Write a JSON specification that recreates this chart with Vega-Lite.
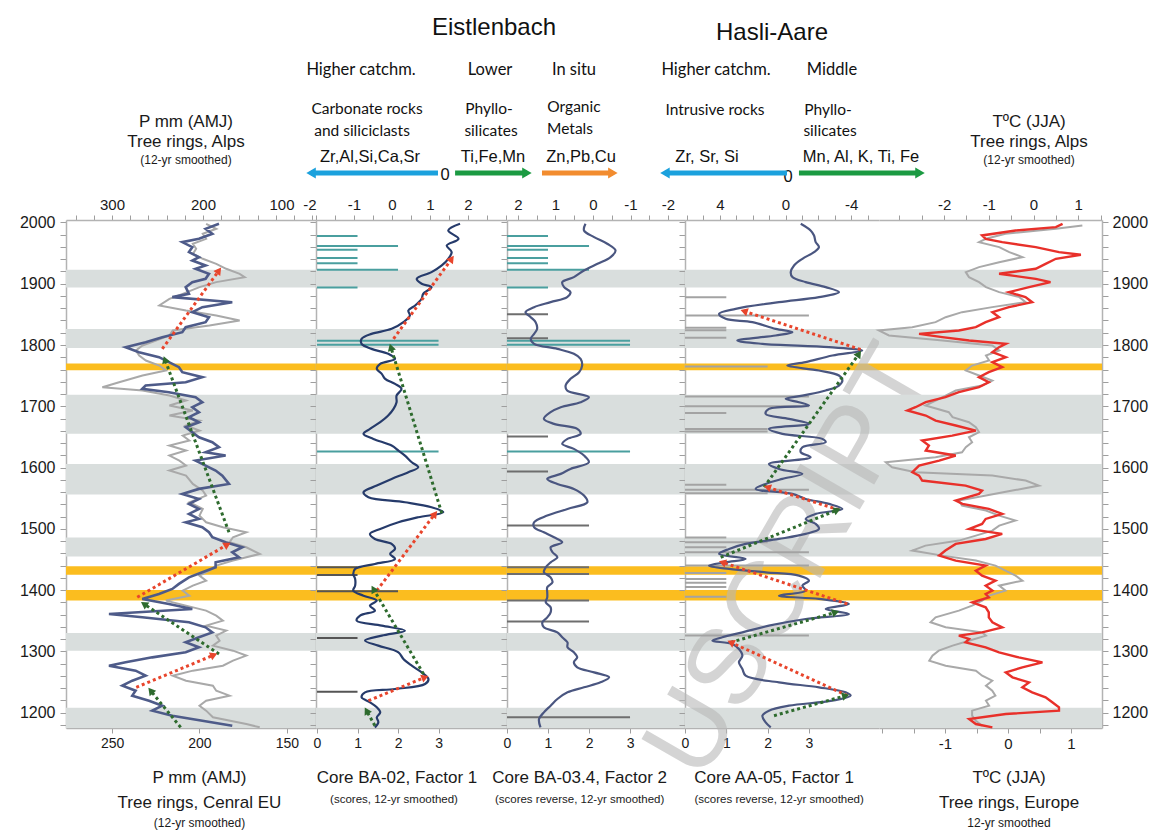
{
"$schema": "https://vega.github.io/schema/vega-lite/v6.json",
"background": "white",
"padding": {"left": 19, "top": 0, "right": 4, "bottom": 0},
"datasets": {
"intervals": [
{"year":1894,"year_end":1923,"kind":"period"},{"year":1795,"year_end":1826,"kind":"period"},{"year":1655,"year_end":1719,"kind":"period"},{"year":1556,"year_end":1606,"kind":"period"},{"year":1455,"year_end":1486,"kind":"period"},{"year":1301,"year_end":1330,"kind":"period"},{"year":1175,"year_end":1208,"kind":"period"},
{"year":1759,"year_end":1770,"kind":"event"},{"year":1425,"year_end":1439,"kind":"event"},{"year":1383,"year_end":1400,"kind":"event"}],
"watermark": [{"label":"USCRIPT","year":1111,"v":6.80}],
"p_alps": [
{"year":1997.8,"p":182.4},{"year":1989.7,"p":197.1},{"year":1981.5,"p":189.7},{"year":1973.3,"p":204.4},{"year":1967.9,"p":222.7},{"year":1959.7,"p":211.7},{"year":1951.6,"p":215.4},{"year":1943.4,"p":204.4},{"year":1937.9,"p":211.7},{"year":1929.8,"p":197.1},{"year":1924.4,"p":208.1},{"year":1916.2,"p":193.4},{"year":1908.0,"p":197.1},{"year":1902.6,"p":211.7},{"year":1894.4,"p":219.0},{"year":1883.5,"p":215.4},{"year":1878.1,"p":233.7},{"year":1869.9,"p":167.8},{"year":1861.8,"p":200.7},{"year":1853.6,"p":211.7},{"year":1845.4,"p":193.4},{"year":1837.3,"p":197.1},{"year":1829.1,"p":219.0},{"year":1820.9,"p":222.7},{"year":1812.8,"p":244.7},{"year":1804.6,"p":263.0},{"year":1796.5,"p":285.0},{"year":1788.3,"p":270.3},{"year":1780.1,"p":248.3},{"year":1772.0,"p":237.4},{"year":1763.8,"p":226.4},{"year":1755.6,"p":222.7},{"year":1747.5,"p":200.7},{"year":1739.3,"p":219.0},{"year":1733.9,"p":263.0},{"year":1728.4,"p":266.7},{"year":1723.0,"p":237.4},{"year":1714.8,"p":208.1},{"year":1706.7,"p":200.7},{"year":1698.5,"p":211.7},{"year":1690.4,"p":204.4},{"year":1682.2,"p":215.4},{"year":1674.0,"p":204.4},{"year":1665.9,"p":219.0},{"year":1657.7,"p":211.7},{"year":1649.5,"p":204.4},{"year":1641.4,"p":189.7},{"year":1633.2,"p":182.4},{"year":1625.0,"p":197.1},{"year":1619.6,"p":175.1},{"year":1611.4,"p":208.1},{"year":1603.3,"p":197.1},
{"year":1595.1,"p":186.1},{"year":1586.9,"p":178.7},{"year":1573.3,"p":171.4},{"year":1565.2,"p":204.4},{"year":1557.0,"p":222.7},{"year":1548.8,"p":204.4},{"year":1540.7,"p":215.4},{"year":1532.5,"p":204.4},{"year":1524.4,"p":215.4},{"year":1516.2,"p":204.4},{"year":1510.7,"p":219.0},{"year":1502.6,"p":200.7},{"year":1494.4,"p":193.4},{"year":1486.3,"p":189.7},{"year":1478.1,"p":175.1},{"year":1469.9,"p":156.8},{"year":1461.8,"p":167.8},{"year":1453.6,"p":160.4},{"year":1445.4,"p":186.1},{"year":1437.3,"p":186.1},{"year":1429.1,"p":200.7},{"year":1420.9,"p":215.4},{"year":1410.1,"p":226.4},{"year":1401.9,"p":233.7},{"year":1393.7,"p":248.3},{"year":1385.6,"p":266.7},{"year":1377.4,"p":237.4},{"year":1369.2,"p":211.7},{"year":1361.1,"p":303.3},{"year":1355.6,"p":266.7},{"year":1347.5,"p":215.4},{"year":1339.3,"p":197.1},{"year":1331.1,"p":189.7},{"year":1323.0,"p":204.4},{"year":1314.8,"p":219.0},{"year":1306.7,"p":204.4},{"year":1298.5,"p":219.0},{"year":1290.3,"p":255.7},{"year":1282.2,"p":285.0},{"year":1276.7,"p":303.3},{"year":1268.6,"p":274.0},{"year":1260.4,"p":263.0},{"year":1252.2,"p":277.7},{"year":1244.1,"p":288.6},{"year":1235.9,"p":274.0},{"year":1227.8,"p":277.7},{"year":1219.6,"p":259.3},{"year":1211.4,"p":244.7},{"year":1203.3,"p":255.7},{"year":1195.1,"p":233.7},{"year":1186.9,"p":200.7},{"year":1178.8,"p":167.8}],
"p_ceu": [
{"year":1997.8,"p":196.2},{"year":1989.7,"p":190.4},{"year":1981.5,"p":198.1},{"year":1973.3,"p":196.2},{"year":1965.2,"p":203.8},{"year":1957.0,"p":201.9},{"year":1948.8,"p":203.8},{"year":1940.7,"p":198.1},{"year":1932.5,"p":190.4},{"year":1924.4,"p":184.7},{"year":1916.2,"p":177.0},{"year":1910.8,"p":174.1},{"year":1902.6,"p":190.4},{"year":1894.4,"p":200.0},{"year":1883.5,"p":209.6},{"year":1875.4,"p":217.2},{"year":1864.5,"p":223.0},{"year":1856.3,"p":207.7},{"year":1848.2,"p":190.4},{"year":1840.0,"p":177.0},{"year":1831.8,"p":194.3},{"year":1823.7,"p":215.3},{"year":1815.5,"p":217.2},{"year":1807.3,"p":224.9},{"year":1799.2,"p":232.6},{"year":1791.0,"p":236.4},{"year":1782.9,"p":234.5},{"year":1774.7,"p":230.7},{"year":1766.5,"p":223.0},{"year":1758.4,"p":219.2},{"year":1750.2,"p":232.6},{"year":1739.3,"p":246.0},{"year":1731.2,"p":255.6},{"year":1725.7,"p":232.6},{"year":1717.5,"p":217.2},{"year":1709.4,"p":207.7},{"year":1701.2,"p":217.2},{"year":1693.1,"p":203.8},{"year":1684.9,"p":217.2},{"year":1676.7,"p":200.0},{"year":1668.6,"p":207.7},{"year":1660.4,"p":200.0},{"year":1652.2,"p":209.6},{"year":1644.1,"p":205.8},{"year":1635.9,"p":217.2},{"year":1627.8,"p":207.7},{"year":1619.6,"p":217.2},{"year":1611.4,"p":211.5},{"year":1603.3,"p":207.7},
{"year":1595.1,"p":217.2},{"year":1586.9,"p":207.7},{"year":1573.3,"p":203.8},{"year":1562.4,"p":198.1},{"year":1554.3,"p":196.2},{"year":1543.4,"p":205.8},{"year":1532.5,"p":198.1},{"year":1521.6,"p":200.0},{"year":1510.7,"p":196.2},{"year":1502.6,"p":186.6},{"year":1494.4,"p":173.2},{"year":1486.3,"p":180.8},{"year":1478.1,"p":182.8},{"year":1469.9,"p":173.2},{"year":1459.0,"p":165.5},{"year":1448.2,"p":180.8},{"year":1440.0,"p":190.4},{"year":1431.8,"p":194.3},{"year":1423.7,"p":200.0},{"year":1415.5,"p":196.2},{"year":1407.3,"p":203.8},{"year":1399.2,"p":209.6},{"year":1391.0,"p":205.8},{"year":1382.9,"p":219.2},{"year":1374.7,"p":207.7},{"year":1366.5,"p":196.2},{"year":1358.4,"p":190.4},{"year":1350.2,"p":186.6},{"year":1342.0,"p":196.2},{"year":1333.9,"p":184.7},{"year":1325.7,"p":190.4},{"year":1317.5,"p":188.5},{"year":1309.4,"p":192.3},{"year":1301.2,"p":180.8},{"year":1293.1,"p":173.2},{"year":1284.9,"p":180.8},{"year":1276.7,"p":186.6},{"year":1268.6,"p":203.8},{"year":1260.4,"p":215.3},{"year":1252.2,"p":207.7},{"year":1244.1,"p":192.3},{"year":1235.9,"p":190.4},{"year":1227.8,"p":182.8},{"year":1219.6,"p":196.2},{"year":1211.4,"p":200.0},{"year":1203.3,"p":196.2},{"year":1192.4,"p":192.3},{"year":1181.5,"p":173.2},{"year":1176.1,"p":165.5}],
"ba02": [
{"year":1997.8,"score":1.79},{"year":1986.9,"score":1.48},{"year":1973.3,"score":1.75},{"year":1962.4,"score":1.44},{"year":1951.6,"score":1.57},{"year":1940.7,"score":1.48},{"year":1929.8,"score":1.31},{"year":1918.9,"score":1.04},{"year":1908.0,"score":0.65},{"year":1899.9,"score":0.78},{"year":1894.4,"score":1.04},{"year":1883.5,"score":0.82},{"year":1875.4,"score":0.78},{"year":1864.5,"score":0.61},{"year":1856.3,"score":0.43},{"year":1848.2,"score":0.47},{"year":1837.3,"score":0.30},{"year":1826.4,"score":-0.01},{"year":1818.2,"score":-0.54},{"year":1810.1,"score":-0.80},{"year":1801.9,"score":-0.80},{"year":1793.7,"score":-0.54},{"year":1785.6,"score":-0.10},{"year":1777.4,"score":0.08},{"year":1769.2,"score":-0.31},{"year":1761.1,"score":-0.40},{"year":1752.9,"score":-0.27},{"year":1744.8,"score":-0.18},{"year":1736.6,"score":0.08},{"year":1728.4,"score":0.25},{"year":1717.5,"score":0.12},{"year":1706.7,"score":0.12},{"year":1695.8,"score":0.04},{"year":1684.9,"score":-0.10},{"year":1674.0,"score":-0.31},{"year":1663.1,"score":-0.58},{"year":1655.0,"score":-0.75},{"year":1646.8,"score":-0.49},{"year":1635.9,"score":-0.01},{"year":1627.8,"score":0.17},{"year":1619.6,"score":0.34},{"year":1608.7,"score":0.52},{"year":1600.5,"score":0.69},{"year":1592.4,"score":0.43},{"year":1581.5,"score":-0.01},{"year":1570.6,"score":-0.40},{"year":1559.7,"score":-0.75},{"year":1551.6,"score":-0.62},{"year":1543.4,"score":0.34},{"year":1535.2,"score":1.04},{"year":1527.1,"score":1.35},{"year":1518.9,"score":0.69},{"year":1510.8,"score":0.17},{"year":1499.9,"score":-0.31},{"year":1491.7,"score":-0.58},{"year":1483.5,"score":-0.45},{"year":1475.4,"score":-0.01},{"year":1467.2,"score":0.08},{"year":1459.1,"score":-0.05},{"year":1450.9,"score":0.08},{"year":1442.7,"score":-0.45},{"year":1434.6,"score":-0.97},{"year":1426.4,"score":-1.02},{"year":1418.2,"score":-0.97},{"year":1407.3,"score":-0.97},{"year":1399.2,"score":-1.02},{"year":1391.0,"score":-0.75},{"year":1382.9,"score":-0.40},{"year":1374.7,"score":-0.58},{"year":1366.5,"score":-0.45},{"year":1358.4,"score":-0.84},{"year":1350.2,"score":-0.93},{"year":1342.0,"score":-0.27},{"year":1333.9,"score":0.34},{"year":1325.7,"score":-0.27},{"year":1317.6,"score":-0.71},{"year":1309.4,"score":-0.36},{"year":1298.5,"score":0.17},{"year":1287.6,"score":0.30},{"year":1276.7,"score":0.52},{"year":1265.8,"score":0.78},{"year":1254.9,"score":0.96},{"year":1246.8,"score":0.87},{"year":1238.6,"score":0.08},{"year":1233.2,"score":-0.71},{"year":1225.0,"score":-0.80},{"year":1216.9,"score":-0.58},{"year":1208.7,"score":-0.40},{"year":1200.5,"score":-0.31},{"year":1192.4,"score":-0.40},{"year":1184.2,"score":-0.36},{"year":1176.0,"score":-0.45}],
"ba034": [
{"year":1997.8,"score":0.20},{"year":1986.9,"score":0.24},{"year":1976.1,"score":-0.03},{"year":1965.2,"score":-0.38},{"year":1954.3,"score":-0.60},{"year":1943.4,"score":-0.47},{"year":1932.5,"score":-0.12},{"year":1921.6,"score":0.24},{"year":1910.8,"score":0.51},{"year":1902.6,"score":0.82},{"year":1894.4,"score":0.77},{"year":1886.3,"score":0.60},{"year":1878.1,"score":0.69},{"year":1869.9,"score":1.13},{"year":1861.8,"score":1.57},{"year":1853.6,"score":1.80},{"year":1845.4,"score":1.66},{"year":1837.3,"score":1.53},{"year":1826.4,"score":1.49},{"year":1818.2,"score":1.57},{"year":1810.1,"score":1.66},{"year":1801.9,"score":1.57},{"year":1793.7,"score":0.95},{"year":1785.6,"score":0.51},{"year":1777.4,"score":0.33},{"year":1766.5,"score":0.29},{"year":1755.6,"score":0.37},{"year":1744.8,"score":0.60},{"year":1733.9,"score":0.73},{"year":1725.7,"score":0.69},{"year":1714.8,"score":0.11},{"year":1706.7,"score":0.33},{"year":1698.5,"score":0.86},{"year":1690.4,"score":1.13},{"year":1679.5,"score":1.31},{"year":1671.3,"score":1.04},{"year":1663.1,"score":0.42},{"year":1655.0,"score":0.33},{"year":1646.8,"score":0.68},{"year":1638.6,"score":0.82},{"year":1630.5,"score":0.51},{"year":1619.6,"score":0.24},{"year":1608.7,"score":0.11},{"year":1597.8,"score":0.60},{"year":1589.7,"score":0.86},{"year":1581.5,"score":1.22},{"year":1573.3,"score":0.95},{"year":1565.2,"score":0.51},{"year":1554.3,"score":0.24},{"year":1543.4,"score":0.15},{"year":1532.5,"score":0.68},{"year":1521.6,"score":1.22},{"year":1510.8,"score":1.57},{"year":1502.6,"score":1.57},{"year":1494.4,"score":1.31},{"year":1486.3,"score":1.04},{"year":1478.1,"score":0.82},{"year":1469.9,"score":1.13},{"year":1461.8,"score":1.08},{"year":1453.6,"score":0.95},{"year":1445.4,"score":1.13},{"year":1437.3,"score":1.26},{"year":1429.1,"score":1.31},{"year":1420.9,"score":1.13},{"year":1412.8,"score":1.08},{"year":1404.6,"score":1.22},{"year":1396.5,"score":1.22},{"year":1388.3,"score":1.22},{"year":1380.1,"score":1.26},{"year":1372.0,"score":1.13},{"year":1363.8,"score":1.13},{"year":1355.6,"score":1.22},{"year":1347.5,"score":1.35},{"year":1339.3,"score":1.31},{"year":1331.1,"score":0.95},{"year":1323.0,"score":0.82},{"year":1314.8,"score":0.68},{"year":1306.7,"score":0.68},{"year":1298.5,"score":0.51},{"year":1290.3,"score":0.42},{"year":1282.2,"score":0.51},{"year":1274.0,"score":0.42},{"year":1265.8,"score":-0.03},{"year":1257.7,"score":-0.43},{"year":1249.5,"score":-0.20},{"year":1241.4,"score":0.24},{"year":1233.2,"score":0.68},{"year":1222.3,"score":0.95},{"year":1211.4,"score":1.13},{"year":1200.5,"score":1.31},{"year":1189.6,"score":1.44},{"year":1176.0,"score":1.40}],
"aa05": [
{"year":1997.8,"score":-0.93},{"year":1986.9,"score":-1.53},{"year":1978.8,"score":-1.74},{"year":1967.9,"score":-1.84},{"year":1959.7,"score":-2.04},{"year":1951.6,"score":-1.74},{"year":1940.7,"score":-1.03},{"year":1929.8,"score":-0.52},{"year":1918.9,"score":-0.32},{"year":1910.8,"score":-0.42},{"year":1902.6,"score":-1.23},{"year":1894.4,"score":-2.45},{"year":1886.3,"score":-3.26},{"year":1878.1,"score":-2.04},{"year":1869.9,"score":0.40},{"year":1859.0,"score":3.04},{"year":1850.9,"score":4.05},{"year":1842.7,"score":3.65},{"year":1837.3,"score":2.02},{"year":1826.4,"score":0.60},{"year":1820.9,"score":-0.42},{"year":1815.5,"score":0.60},{"year":1807.3,"score":2.94},{"year":1801.9,"score":1.41},{"year":1796.5,"score":-2.65},{"year":1791.0,"score":-4.68},{"year":1782.9,"score":-2.86},{"year":1772.0,"score":-1.23},{"year":1766.5,"score":-0.11},{"year":1758.4,"score":-2.04},{"year":1750.2,"score":-3.26},{"year":1742.0,"score":-3.47},{"year":1733.9,"score":-3.26},{"year":1725.7,"score":-2.45},{"year":1717.5,"score":-1.03},{"year":1712.1,"score":-0.01},{"year":1706.7,"score":-0.82},{"year":1701.2,"score":-1.43},{"year":1695.8,"score":1.01},{"year":1687.6,"score":1.21},{"year":1679.5,"score":-0.21},{"year":1671.3,"score":-1.43},{"year":1663.1,"score":1.01},{"year":1655.0,"score":0.19},{"year":1646.8,"score":-2.25},{"year":1641.4,"score":-2.45},{"year":1633.2,"score":-1.03},{"year":1625.0,"score":-0.93},{"year":1616.9,"score":-1.53},{"year":1606.0,"score":1.01},{"year":1597.8,"score":0.40},{"year":1589.7,"score":-1.03},{"year":1581.5,"score":0.19},{"year":1573.3,"score":1.21},{"year":1565.2,"score":1.82},{"year":1557.0,"score":-0.42},{"year":1548.8,"score":-1.23},{"year":1540.7,"score":-2.65},{"year":1532.5,"score":-3.47},{"year":1524.4,"score":-1.84},{"year":1516.2,"score":-1.23},{"year":1508.0,"score":-1.84},{"year":1499.9,"score":-2.04},{"year":1491.7,"score":-1.23},{"year":1483.5,"score":0.40},{"year":1475.4,"score":2.43},{"year":1467.2,"score":3.44},{"year":1459.1,"score":4.05},{"year":1450.9,"score":2.43},{"year":1445.4,"score":3.65},{"year":1440.0,"score":4.66},{"year":1434.6,"score":3.44},{"year":1429.1,"score":1.21},{"year":1423.7,"score":-0.82},{"year":1415.5,"score":-1.43},{"year":1407.3,"score":-1.03},{"year":1399.2,"score":-1.23},{"year":1391.0,"score":0.40},{"year":1385.6,"score":-2.04},{"year":1377.4,"score":-3.87},{"year":1369.3,"score":-2.45},{"year":1361.1,"score":-3.87},{"year":1352.9,"score":-1.23},{"year":1342.0,"score":1.01},{"year":1331.1,"score":2.63},{"year":1323.0,"score":3.85},{"year":1317.6,"score":4.46},{"year":1312.1,"score":3.24},{"year":1303.9,"score":2.84},{"year":1293.1,"score":2.63},{"year":1282.2,"score":2.84},{"year":1271.3,"score":2.63},{"year":1260.4,"score":2.43},{"year":1249.5,"score":0.40},{"year":1241.4,"score":-2.04},{"year":1233.2,"score":-3.67},{"year":1227.8,"score":-3.97},{"year":1219.6,"score":-2.86},{"year":1211.4,"score":-0.21},{"year":1203.3,"score":1.01},{"year":1195.1,"score":1.41},{"year":1184.2,"score":1.21},{"year":1176.0,"score":0.90}],
"t_alps": [
{"year":1997.8,"t":0.65},{"year":1992.4,"t":0.50},{"year":1986.9,"t":-0.40},{"year":1978.8,"t":-1.15},{"year":1973.3,"t":-1.07},{"year":1967.9,"t":-0.70},{"year":1959.7,"t":0.05},{"year":1951.6,"t":0.57},{"year":1947.2,"t":1.06},{"year":1940.7,"t":0.50},{"year":1932.5,"t":0.27},{"year":1924.4,"t":0.05},{"year":1916.2,"t":-0.77},{"year":1908.0,"t":0.05},{"year":1902.6,"t":0.38},{"year":1894.4,"t":-0.10},{"year":1886.3,"t":-0.55},{"year":1878.1,"t":-0.18},{"year":1869.9,"t":-0.03},{"year":1861.8,"t":-0.55},{"year":1853.6,"t":-0.92},{"year":1845.4,"t":-0.77},{"year":1837.3,"t":-1.07},{"year":1829.1,"t":-1.29},{"year":1823.7,"t":-1.67},{"year":1818.2,"t":-2.56},{"year":1812.8,"t":-2.04},{"year":1807.3,"t":-1.44},{"year":1801.9,"t":-0.62},{"year":1796.5,"t":-0.77},{"year":1788.3,"t":-0.92},{"year":1780.1,"t":-0.62},{"year":1772.0,"t":-0.92},{"year":1763.8,"t":-0.70},{"year":1755.6,"t":-1.00},{"year":1747.5,"t":-1.22},{"year":1739.3,"t":-1.00},{"year":1731.2,"t":-1.22},{"year":1723.0,"t":-1.67},{"year":1714.8,"t":-1.97},{"year":1706.7,"t":-2.41},{"year":1698.5,"t":-2.64},{"year":1693.1,"t":-2.82},{"year":1684.9,"t":-2.41},{"year":1676.7,"t":-2.19},{"year":1668.6,"t":-1.74},{"year":1660.4,"t":-1.29},{"year":1652.2,"t":-1.82},{"year":1644.1,"t":-2.49},{"year":1635.9,"t":-2.34},{"year":1627.8,"t":-2.41},{"year":1619.6,"t":-1.74},{"year":1611.4,"t":-2.11},{"year":1603.3,"t":-2.56},{"year":1592.4,"t":-2.71},{"year":1586.9,"t":-2.56},{"year":1578.8,"t":-2.49},{"year":1570.6,"t":-1.52},{"year":1562.4,"t":-1.15},{"year":1557.0,"t":-1.22},{"year":1546.1,"t":-1.74},{"year":1540.7,"t":-1.59},{"year":1532.5,"t":-1.00},{"year":1524.4,"t":-0.70},{"year":1516.2,"t":-1.07},{"year":1508.0,"t":-1.15},{"year":1499.9,"t":-1.44},{"year":1491.7,"t":-0.70},{"year":1483.5,"t":-1.07},{"year":1475.4,"t":-1.74},{"year":1464.5,"t":-1.97},{"year":1456.3,"t":-2.11},{"year":1448.2,"t":-1.74},{"year":1440.0,"t":-1.07},{"year":1431.8,"t":-1.29},{"year":1423.7,"t":-1.15},{"year":1415.5,"t":-0.85},{"year":1407.3,"t":-1.07},{"year":1399.2,"t":-0.92},{"year":1393.7,"t":-1.07},{"year":1388.3,"t":-1.00},{"year":1380.1,"t":-1.37},{"year":1372.0,"t":-1.07},{"year":1363.8,"t":-1.00},{"year":1355.6,"t":-1.00},{"year":1347.5,"t":-0.92},{"year":1339.3,"t":-0.70},{"year":1331.1,"t":-1.15},{"year":1325.7,"t":-1.67},{"year":1320.3,"t":-1.44},{"year":1314.8,"t":-1.52},{"year":1306.7,"t":-1.07},{"year":1298.5,"t":-0.77},{"year":1290.3,"t":-0.33},{"year":1282.2,"t":0.20},{"year":1274.0,"t":-0.25},{"year":1265.8,"t":-0.62},{"year":1257.7,"t":-0.47},{"year":1249.5,"t":-0.10},{"year":1241.4,"t":-0.25},{"year":1233.2,"t":-0.03},{"year":1225.0,"t":0.27},{"year":1216.9,"t":0.42},{"year":1208.7,"t":0.57},{"year":1203.3,"t":0.57},{"year":1197.8,"t":-0.62},{"year":1189.7,"t":-1.44},{"year":1181.5,"t":-1.29},{"year":1176.1,"t":-0.92}],
"t_eur": [
{"year":1995.1,"t":1.18},{"year":1989.7,"t":0.76},{"year":1981.5,"t":-0.04},{"year":1973.3,"t":-0.35},{"year":1967.9,"t":-0.46},{"year":1959.7,"t":-0.14},{"year":1951.6,"t":0.02},{"year":1943.4,"t":0.23},{"year":1935.2,"t":-0.14},{"year":1927.1,"t":-0.46},{"year":1918.9,"t":-0.67},{"year":1910.8,"t":-0.62},{"year":1902.6,"t":-0.46},{"year":1894.4,"t":-0.35},{"year":1886.3,"t":-0.14},{"year":1878.1,"t":0.18},{"year":1869.9,"t":0.28},{"year":1861.8,"t":-0.25},{"year":1853.6,"t":-0.73},{"year":1845.4,"t":-0.99},{"year":1837.3,"t":-1.15},{"year":1829.1,"t":-1.52},{"year":1823.7,"t":-2.05},{"year":1815.5,"t":-1.89},{"year":1807.3,"t":-1.04},{"year":1799.2,"t":-0.25},{"year":1791.0,"t":-0.14},{"year":1782.9,"t":-0.35},{"year":1774.7,"t":-0.30},{"year":1766.5,"t":-0.57},{"year":1758.4,"t":-0.67},{"year":1750.2,"t":-0.46},{"year":1742.0,"t":-0.25},{"year":1733.9,"t":-0.41},{"year":1725.7,"t":-0.83},{"year":1717.5,"t":-0.99},{"year":1709.4,"t":-1.15},{"year":1701.2,"t":-1.31},{"year":1690.4,"t":-0.94},{"year":1682.2,"t":-0.88},{"year":1674.0,"t":-0.62},{"year":1665.9,"t":-0.51},{"year":1657.7,"t":-0.46},{"year":1649.5,"t":-0.62},{"year":1641.4,"t":-0.57},{"year":1633.2,"t":-0.67},{"year":1625.0,"t":-0.73},{"year":1616.9,"t":-1.15},{"year":1608.7,"t":-1.94},{"year":1600.5,"t":-1.84},{"year":1592.4,"t":-1.47},{"year":1586.9,"t":-0.25},{"year":1578.8,"t":0.28},{"year":1570.6,"t":0.49},{"year":1562.4,"t":0.07},{"year":1554.3,"t":-0.35},{"year":1546.1,"t":-0.78},{"year":1538.0,"t":-0.73},{"year":1529.8,"t":-0.35},{"year":1521.6,"t":-0.14},{"year":1513.5,"t":0.12},{"year":1505.3,"t":-0.14},{"year":1497.1,"t":-0.25},{"year":1489.0,"t":-0.51},{"year":1480.8,"t":-0.78},{"year":1472.6,"t":-1.31},{"year":1464.5,"t":-1.52},{"year":1456.3,"t":-1.04},{"year":1448.2,"t":-0.51},{"year":1440.0,"t":-0.20},{"year":1431.8,"t":-0.04},{"year":1423.7,"t":0.12},{"year":1415.5,"t":0.23},{"year":1407.3,"t":-0.14},{"year":1399.2,"t":-0.04},{"year":1391.0,"t":-0.30},{"year":1382.9,"t":-0.41},{"year":1374.7,"t":-0.57},{"year":1366.5,"t":-0.78},{"year":1355.6,"t":-1.15},{"year":1347.5,"t":-1.23},{"year":1339.3,"t":-0.99},{"year":1331.1,"t":-0.41},{"year":1325.7,"t":-0.35},{"year":1317.5,"t":-0.62},{"year":1309.4,"t":-0.88},{"year":1301.2,"t":-1.10},{"year":1293.1,"t":-1.20},{"year":1284.9,"t":-1.25},{"year":1276.7,"t":-0.99},{"year":1268.6,"t":-0.51},{"year":1260.4,"t":-0.41},{"year":1252.2,"t":-0.25},{"year":1244.1,"t":-0.35},{"year":1235.9,"t":-0.25},{"year":1227.8,"t":-0.20},{"year":1219.6,"t":-0.35},{"year":1211.4,"t":-0.30},{"year":1203.3,"t":-0.57},{"year":1195.1,"t":-0.57},{"year":1186.9,"t":-0.51},{"year":1178.8,"t":-0.41}],
"layers_ba02": [
{"year":1977.7,"length":1,"type":"instrumental"},{"year":1961.4,"length":2,"type":"instrumental"},{"year":1955.4,"length":1,"type":"instrumental"},{"year":1941.8,"length":1,"type":"instrumental"},{"year":1933.6,"length":1,"type":"instrumental"},{"year":1922.7,"length":2,"type":"instrumental"},{"year":1893.9,"length":1,"type":"instrumental"},{"year":1806.8,"length":3,"type":"instrumental"},{"year":1800.3,"length":3,"type":"instrumental"},{"year":1626.1,"length":3,"type":"instrumental"},
{"year":1437.3,"length":1,"type":"historical"},{"year":1424.8,"length":1,"type":"historical"},{"year":1398.1,"length":2,"type":"historical"},{"year":1321.9,"length":1,"type":"historical"},{"year":1234.3,"length":1,"type":"historical"}],
"layers_ba034": [
{"year":1977.7,"length":1,"type":"instrumental"},{"year":1961.4,"length":2,"type":"instrumental"},{"year":1955.4,"length":1,"type":"instrumental"},{"year":1941.8,"length":1,"type":"instrumental"},{"year":1933.6,"length":1,"type":"instrumental"},{"year":1922.7,"length":2,"type":"instrumental"},{"year":1893.9,"length":1,"type":"instrumental"},{"year":1806.8,"length":3,"type":"instrumental"},{"year":1800.3,"length":3,"type":"instrumental"},{"year":1626.1,"length":3,"type":"instrumental"},
{"year":1850.3,"length":1,"type":"historical"},{"year":1811.2,"length":1,"type":"historical"},{"year":1650.6,"length":1,"type":"historical"},{"year":1593.5,"length":1,"type":"historical"},{"year":1505.3,"length":2,"type":"historical"},{"year":1437.3,"length":2,"type":"historical"},{"year":1426.4,"length":2,"type":"historical"},{"year":1382.9,"length":2,"type":"historical"},{"year":1348.6,"length":2,"type":"historical"},{"year":1192.4,"length":3,"type":"historical"}],
"layers_aa05": [
{"year":1878,"length":1},{"year":1848,"length":3},{"year":1828,"length":1},{"year":1824,"length":1},{"year":1812,"length":1},{"year":1765,"length":2},{"year":1716,"length":3},{"year":1700,"length":3},{"year":1689,"length":1},{"year":1663,"length":2},{"year":1659,"length":2},{"year":1572,"length":1},{"year":1564,"length":3},{"year":1558,"length":2},{"year":1486,"length":1},{"year":1478,"length":2},{"year":1470,"length":1},{"year":1462,"length":3},{"year":1440,"length":3},{"year":1428,"length":1},{"year":1418,"length":1},{"year":1412,"length":1},{"year":1405,"length":1},{"year":1389,"length":1},{"year":1326,"length":3}],
"trends_p": [
{"year":1793.7,"v":244.7,"year_end":1921.6,"v_end":182.4,"trend":"rise","heading":36},
{"year":1494.4,"v":171.4,"year_end":1776.3,"v_end":241.8,"trend":"fall","heading":-20},
{"year":1388.3,"v":272.2,"year_end":1474.3,"v_end":173.2,"trend":"rise","heading":60},
{"year":1295.8,"v":182.4,"year_end":1377.4,"v_end":264.8,"trend":"fall","heading":-56},
{"year":1241.4,"v":273.3,"year_end":1294.1,"v_end":188.0,"trend":"rise","heading":67},
{"year":1176.0,"v":224.5,"year_end":1235.9,"v_end":257.5,"trend":"fall","heading":-39}],
"trends_ba02": [
{"year":1810.1,"v":0.04,"year_end":1940.7,"v_end":1.57,"trend":"rise","heading":36},
{"year":1525.4,"v":1.31,"year_end":1796.5,"v_end":-0.03,"trend":"fall","heading":-17},
{"year":1399.2,"v":-0.40,"year_end":1524.4,"v_end":1.13,"trend":"rise","heading":37},
{"year":1263.1,"v":0.83,"year_end":1401.9,"v_end":-0.49,"trend":"fall","heading":-30},
{"year":1219.6,"v":-0.62,"year_end":1257.7,"v_end":0.87,"trend":"rise","heading":68},
{"year":1178.8,"v":-0.45,"year_end":1203.3,"v_end":-0.67,"trend":"fall","heading":-29}],
"trends_aa05": [
{"year":1792.6,"v":-4.58,"year_end":1855.2,"v_end":2.53,"trend":"rise","heading":-72},
{"year":1567.9,"v":1.31,"year_end":1785.6,"v_end":-4.48,"trend":"fall","heading":35},
{"year":1530.9,"v":-3.26,"year_end":1567.9,"v_end":1.11,"trend":"rise","heading":-72},
{"year":1453.6,"v":3.95,"year_end":1530.9,"v_end":-3.16,"trend":"fall","heading":68},
{"year":1377.4,"v":-3.77,"year_end":1445.4,"v_end":3.85,"trend":"rise","heading":-72},
{"year":1314.8,"v":3.34,"year_end":1363.8,"v_end":-3.06,"trend":"fall","heading":74},
{"year":1227.8,"v":-3.77,"year_end":1314.8,"v_end":3.34,"trend":"rise","heading":-65},
{"year":1195.1,"v":0.70,"year_end":1227.8,"v_end":-3.67,"trend":"fall","heading":74}],
"header": [
{"panel":"P","role":"title","text":"P mm (AMJ)","v":218.7,"row":12.2},
{"panel":"P","role":"title","text":"Tree rings, Alps","v":218.7,"row":14.2},
{"panel":"P","role":"note","text":"(12-yr smoothed)","v":218.7,"row":16.0},
{"panel":"BA02","role":"site","text":"Eistlenbach","v":2.684,"row":2.8},
{"panel":"BA02","role":"zone","text":"Higher catchm.","v":-0.816,"row":7.0},
{"panel":"BA02","role":"zone","text":"Lower","v":2.579,"row":7.0},
{"panel":"BA02","role":"lithology","text":"Carbonate rocks","v":-0.658,"row":10.9},
{"panel":"BA02","role":"lithology","text":"and siliciclasts","v":-0.789,"row":13.1},
{"panel":"BA02","role":"lithology","text":"Phyllo-","v":2.553,"row":10.9},
{"panel":"BA02","role":"lithology","text":"silicates","v":2.605,"row":13.1},
{"panel":"BA02","role":"elements","text":"Zr,Al,Si,Ca,Sr","v":-0.579,"row":15.7},
{"panel":"BA02","role":"elements","text":"0","v":1.395,"row":17.5},
{"panel":"BA02","role":"elements","text":"Ti,Fe,Mn","v":2.658,"row":15.7},
{"panel":"BA034","role":"zone","text":"In situ","v":0.507,"row":7.0},
{"panel":"BA034","role":"lithology","text":"Organic","v":0.507,"row":10.7},
{"panel":"BA034","role":"lithology","text":"Metals","v":0.613,"row":12.9},
{"panel":"BA034","role":"elements","text":"Zn,Pb,Cu","v":0.32,"row":15.7},
{"panel":"AA05","role":"site","text":"Hasli-Aare","v":0.823,"row":3.3},
{"panel":"AA05","role":"zone","text":"Higher catchm.","v":4.238,"row":7.0},
{"panel":"AA05","role":"zone","text":"Middle","v":-2.835,"row":7.0},
{"panel":"AA05","role":"lithology","text":"Intrusive rocks","v":4.299,"row":11.0},
{"panel":"AA05","role":"lithology","text":"Phyllo-","v":-2.591,"row":11.0},
{"panel":"AA05","role":"lithology","text":"silicates","v":-2.713,"row":13.1},
{"panel":"AA05","role":"elements","text":"Zr, Sr, Si","v":4.787,"row":15.7},
{"panel":"AA05","role":"elements","text":"0","v":-0.152,"row":17.7},
{"panel":"AA05","role":"elements","text":"Mn, Al, K, Ti, Fe","v":-4.604,"row":15.7},
{"panel":"T","role":"title","text":"TºC (JJA)","v":-0.10,"row":12.2},
{"panel":"T","role":"title","text":"Tree rings, Alps","v":-0.10,"row":14.2},
{"panel":"T","role":"note","text":"(12-yr smoothed)","v":-0.10,"row":16.0}],
"header_arrows": [
{"panel":"BA02","zone":"higher","v":1.21,"v_end":-2.13,"row":17.3,"heading":270},
{"panel":"BA02","zone":"lower","v":1.66,"v_end":3.55,"row":17.3,"heading":90},
{"panel":"BA034","zone":"in situ","v":1.36,"v_end":-0.53,"row":17.3,"heading":90},
{"panel":"AA05","zone":"higher","v":-0.09,"v_end":7.35,"row":17.3,"heading":270},
{"panel":"AA05","zone":"middle","v":-0.82,"v_end":-8.20,"row":17.3,"heading":90}],
"footer": [
{"panel":"P","role":"title","text":"P mm (AMJ)","v":200,"row":2.0},
{"panel":"P","role":"title","text":"Tree rings, Cenral EU","v":200,"row":4.5},
{"panel":"P","role":"note","text":"(12-yr smoothed)","v":200,"row":6.5},
{"panel":"BA02","role":"title","text":"Core BA-02, Factor 1","v":1.975,"row":2.0},
{"panel":"BA02","role":"note","text":"(scores, 12-yr smoothed)","v":1.90,"row":4.2},
{"panel":"BA034","role":"title","text":"Core BA-03.4, Factor 2","v":1.77,"row":2.0},
{"panel":"BA034","role":"note","text":"(scores reverse, 12-yr smoothed)","v":1.77,"row":4.2},
{"panel":"AA05","role":"title","text":"Core AA-05, Factor 1","v":2.155,"row":2.0},
{"panel":"AA05","role":"note","text":"(scores reverse, 12-yr smoothed)","v":2.28,"row":4.2},
{"panel":"T","role":"title","text":"TºC (JJA)","v":0.016,"row":2.0},
{"panel":"T","role":"title","text":"Tree rings, Europe","v":0.016,"row":4.5},
{"panel":"T","role":"note","text":"12-yr smoothed","v":0.016,"row":6.5}]
},
"concat": [
{"width":250,"height":190,"data":{"name":"header"},"transform":[{"filter":"datum.panel === 'P'"}],
 "encoding":{"x":{"field":"v","type":"quantitative","scale":{"domain":[75.8,350.5],"reverse":true,"nice":false,"zero":false},"axis":null},"y":{"field":"row","type":"quantitative","scale":{"domain":[0,19],"reverse":true,"nice":false,"zero":false},"axis":null},"text":{"field":"text"}},
 "layer":[
  {"transform":[{"filter":"datum.role === 'title'"}],"mark":{"type":"text","fontSize":17,"font":"Liberation Sans","color":"#1a1a1a"}},
  {"transform":[{"filter":"datum.role === 'note'"}],"mark":{"type":"text","fontSize":12,"font":"Liberation Sans","color":"#1a1a1a"}}]},
{"width":191,"height":190,"data":{"name":"header"},"transform":[{"filter":"datum.panel === 'BA02'"}],
 "encoding":{"x":{"field":"v","type":"quantitative","scale":{"domain":[-2.0,3.026],"nice":false,"zero":false},"axis":null},"y":{"field":"row","type":"quantitative","scale":{"domain":[0,19],"reverse":true,"nice":false,"zero":false},"axis":null}},
 "layer":[
  {"transform":[{"filter":"datum.role === 'site'"}],"mark":{"type":"text","fontSize":24,"font":"Liberation Sans","color":"#111111"},"encoding":{"text":{"field":"text"}}},
  {"transform":[{"filter":"datum.role === 'zone'"}],"mark":{"type":"text","fontSize":16.5,"font":"Lato","color":"#111111"},"encoding":{"text":{"field":"text"}}},
  {"transform":[{"filter":"datum.role === 'lithology'"}],"mark":{"type":"text","fontSize":15.5,"font":"Lato","color":"#111111"},"encoding":{"text":{"field":"text"}}},
  {"transform":[{"filter":"datum.role === 'elements'"}],"mark":{"type":"text","fontSize":16.5,"font":"Liberation Sans","color":"#111111"},"encoding":{"text":{"field":"text"}}},
  {"data":{"name":"header_arrows"},"transform":[{"filter":"datum.panel === 'BA02'"}],"mark":{"type":"rule","strokeWidth":5},"encoding":{"x2":{"field":"v_end"},"color":{"field":"zone","type":"nominal","scale":{"domain":["higher","lower","middle","in situ"],"range":["#1ba1dd","#1b9a42","#1b9a42","#f28c2f"]},"legend":null}}},
  {"data":{"name":"header_arrows"},"transform":[{"filter":"datum.panel === 'BA02'"}],"mark":{"type":"point","shape":"triangle-up","filled":true,"size":120,"opacity":1},"encoding":{"x":{"field":"v_end","type":"quantitative","scale":{"domain":[-2.0,3.026],"nice":false,"zero":false},"axis":null},"angle":{"field":"heading","type":"quantitative","scale":null},"color":{"field":"zone","type":"nominal","scale":{"domain":["higher","lower","middle","in situ"],"range":["#1ba1dd","#1b9a42","#1b9a42","#f28c2f"]},"legend":null}}}]},
{"width":178,"height":190,"data":{"name":"header"},"transform":[{"filter":"datum.panel === 'BA034'"}],
 "encoding":{"x":{"field":"v","type":"quantitative","scale":{"domain":[-2.453,2.293],"reverse":true,"nice":false,"zero":false},"axis":null},"y":{"field":"row","type":"quantitative","scale":{"domain":[0,19],"reverse":true,"nice":false,"zero":false},"axis":null}},
 "layer":[
  {"transform":[{"filter":"datum.role === 'zone'"}],"mark":{"type":"text","fontSize":16.5,"font":"Lato","color":"#111111"},"encoding":{"text":{"field":"text"}}},
  {"transform":[{"filter":"datum.role === 'lithology'"}],"mark":{"type":"text","fontSize":15.5,"font":"Lato","color":"#111111"},"encoding":{"text":{"field":"text"}}},
  {"transform":[{"filter":"datum.role === 'elements'"}],"mark":{"type":"text","fontSize":16.5,"font":"Liberation Sans","color":"#111111"},"encoding":{"text":{"field":"text"}}},
  {"data":{"name":"header_arrows"},"transform":[{"filter":"datum.panel === 'BA034'"}],"mark":{"type":"rule","strokeWidth":5},"encoding":{"x2":{"field":"v_end"},"color":{"field":"zone","type":"nominal","scale":{"domain":["higher","lower","middle","in situ"],"range":["#1ba1dd","#1b9a42","#1b9a42","#f28c2f"]},"legend":null}}},
  {"data":{"name":"header_arrows"},"transform":[{"filter":"datum.panel === 'BA034'"}],"mark":{"type":"point","shape":"triangle-up","filled":true,"size":120,"opacity":1},"encoding":{"x":{"field":"v_end","type":"quantitative","scale":{"domain":[-2.453,2.293],"reverse":true,"nice":false,"zero":false},"axis":null},"angle":{"field":"heading","type":"quantitative","scale":null},"color":{"field":"zone","type":"nominal","scale":{"domain":["higher","lower","middle","in situ"],"range":["#1ba1dd","#1b9a42","#1b9a42","#f28c2f"]},"legend":null}}}]},
{"width":194,"height":190,"data":{"name":"header"},"transform":[{"filter":"datum.panel === 'AA05'"}],
 "encoding":{"x":{"field":"v","type":"quantitative","scale":{"domain":[-5.701,6.128],"reverse":true,"nice":false,"zero":false},"axis":null},"y":{"field":"row","type":"quantitative","scale":{"domain":[0,19],"reverse":true,"nice":false,"zero":false},"axis":null}},
 "layer":[
  {"transform":[{"filter":"datum.role === 'site'"}],"mark":{"type":"text","fontSize":24,"font":"Liberation Sans","color":"#111111"},"encoding":{"text":{"field":"text"}}},
  {"transform":[{"filter":"datum.role === 'zone'"}],"mark":{"type":"text","fontSize":16.5,"font":"Lato","color":"#111111"},"encoding":{"text":{"field":"text"}}},
  {"transform":[{"filter":"datum.role === 'lithology'"}],"mark":{"type":"text","fontSize":15.5,"font":"Lato","color":"#111111"},"encoding":{"text":{"field":"text"}}},
  {"transform":[{"filter":"datum.role === 'elements'"}],"mark":{"type":"text","fontSize":16.5,"font":"Liberation Sans","color":"#111111"},"encoding":{"text":{"field":"text"}}},
  {"data":{"name":"header_arrows"},"transform":[{"filter":"datum.panel === 'AA05'"}],"mark":{"type":"rule","strokeWidth":5},"encoding":{"x2":{"field":"v_end"},"color":{"field":"zone","type":"nominal","scale":{"domain":["higher","lower","middle","in situ"],"range":["#1ba1dd","#1b9a42","#1b9a42","#f28c2f"]},"legend":null}}},
  {"data":{"name":"header_arrows"},"transform":[{"filter":"datum.panel === 'AA05'"}],"mark":{"type":"point","shape":"triangle-up","filled":true,"size":120,"opacity":1},"encoding":{"x":{"field":"v_end","type":"quantitative","scale":{"domain":[-5.701,6.128],"reverse":true,"nice":false,"zero":false},"axis":null},"angle":{"field":"heading","type":"quantitative","scale":null},"color":{"field":"zone","type":"nominal","scale":{"domain":["higher","lower","middle","in situ"],"range":["#1ba1dd","#1b9a42","#1b9a42","#f28c2f"]},"legend":null}}}]},
{"width":223,"height":190,"data":{"name":"header"},"transform":[{"filter":"datum.panel === 'T'"}],
 "encoding":{"x":{"field":"v","type":"quantitative","scale":{"domain":[-3.456,1.532],"nice":false,"zero":false},"axis":null},"y":{"field":"row","type":"quantitative","scale":{"domain":[0,19],"reverse":true,"nice":false,"zero":false},"axis":null},"text":{"field":"text"}},
 "layer":[
  {"transform":[{"filter":"datum.role === 'title'"}],"mark":{"type":"text","fontSize":17,"font":"Liberation Sans","color":"#1a1a1a"}},
  {"transform":[{"filter":"datum.role === 'note'"}],"mark":{"type":"text","fontSize":12,"font":"Liberation Sans","color":"#1a1a1a"}}]},

{"width":250,"height":508,
 "encoding":{"y":{"field":"year","type":"quantitative","scale":{"domain":[1175,2004],"nice":false,"zero":false},"axis":{"orient":"left","title":null,"values":[1180,1200,1220,1240,1260,1280,1300,1320,1340,1360,1380,1400,1420,1440,1460,1480,1500,1520,1540,1560,1580,1600,1620,1640,1660,1680,1700,1720,1740,1760,1780,1800,1820,1840,1860,1880,1900,1920,1940,1960,1980,2000],"labelExpr":"datum.value % 100 === 0 ? '' + datum.value : ''","labelFontSize":16,"tickSize":6,"labelPadding":5}}},
 "layer":[
  {"data":{"name":"intervals"},"mark":{"type":"rect"},"encoding":{"y2":{"field":"year_end"},"color":{"field":"kind","type":"nominal","scale":{"domain":["period","event"],"range":["#d9dedd","#fbbd1f"]},"legend":null}}},
  {"data":{"name":"p_ceu"},"mark":{"type":"line","color":"#a9a9a9","strokeWidth":2},"encoding":{"x":{"field":"p","type":"quantitative","scale":{"domain":[133.3,276.4],"reverse":true,"nice":false,"zero":false},"axis":{"orient":"bottom","title":null,"values":[250,200,150],"labelFontSize":14}},"order":{"field":"year"}}},
  {"data":{"name":"p_alps"},"mark":{"type":"line","color":"#4e5b89","strokeWidth":2.6},"encoding":{"x":{"field":"p","type":"quantitative","scale":{"domain":[75.8,350.5],"reverse":true,"nice":false,"zero":false},"axis":{"orient":"top","title":null,"values":[80,100,120,140,160,180,200,220,240,260,280,300,320,340],"labelExpr":"datum.value % 100 === 0 ? '' + datum.value : ''","labelAlign":{"condition":{"test":"datum.value === 100","value":"right"},"value":"center"}}},"order":{"field":"year"}}},
  {"data":{"name":"trends_p"},"mark":{"type":"rule","strokeDash":[3,3],"strokeWidth":3},"encoding":{"x":{"field":"v","type":"quantitative","scale":{"domain":[75.8,350.5],"reverse":true,"nice":false,"zero":false},"axis":null},"x2":{"field":"v_end"},"y2":{"field":"year_end"},"color":{"field":"trend","type":"nominal","scale":{"domain":["rise","fall"],"range":["#e8452c","#2e6b2e"]},"legend":null}}},
  {"data":{"name":"trends_p"},"mark":{"type":"point","shape":"triangle-up","filled":true,"size":70,"opacity":1},"encoding":{"x":{"field":"v_end","type":"quantitative","scale":{"domain":[75.8,350.5],"reverse":true,"nice":false,"zero":false},"axis":null},"y":{"field":"year_end","type":"quantitative","scale":{"domain":[1175,2004],"nice":false,"zero":false},"axis":{"orient":"left","title":null,"values":[1180,1200,1220,1240,1260,1280,1300,1320,1340,1360,1380,1400,1420,1440,1460,1480,1500,1520,1540,1560,1580,1600,1620,1640,1660,1680,1700,1720,1740,1760,1780,1800,1820,1840,1860,1880,1900,1920,1940,1960,1980,2000],"labelExpr":"datum.value % 100 === 0 ? '' + datum.value : ''","labelFontSize":16,"tickSize":6,"labelPadding":5}},"angle":{"field":"heading","type":"quantitative","scale":null},"color":{"field":"trend","type":"nominal","scale":{"domain":["rise","fall"],"range":["#e8452c","#2e6b2e"]},"legend":null}}}],
 "resolve":{"scale":{"x":"independent","color":"independent"},"axis":{"x":"independent"}}},

{"width":191,"height":508,
 "encoding":{"y":{"field":"year","type":"quantitative","scale":{"domain":[1175,2004],"nice":false,"zero":false},"axis":{"orient":"left","title":null,"values":[1180,1200,1220,1240,1260,1280,1300,1320,1340,1360,1380,1400,1420,1440,1460,1480,1500,1520,1540,1560,1580,1600,1620,1640,1660,1680,1700,1720,1740,1760,1780,1800,1820,1840,1860,1880,1900,1920,1940,1960,1980,2000],"labels":false,"tickSize":6}}},
 "layer":[
  {"data":{"name":"intervals"},"mark":{"type":"rect"},"encoding":{"y2":{"field":"year_end"},"color":{"field":"kind","type":"nominal","scale":{"domain":["period","event"],"range":["#d9dedd","#fbbd1f"]},"legend":null}}},
  {"data":{"name":"layers_ba02"},"mark":{"type":"rule","strokeWidth":2},"encoding":{"x":{"field":"length","type":"quantitative","scale":{"domain":[-0.025,4.69],"nice":false,"zero":false},"axis":{"orient":"bottom","title":null,"values":[0,1,2,3],"labelFontSize":14}},"x2":{"datum":0},"color":{"field":"type","type":"nominal","scale":{"domain":["instrumental","historical"],"range":["#4a9f9f","#555555"]},"legend":null}}},
  {"data":{"name":"ba02"},"mark":{"type":"line","interpolate":"catmull-rom","color":"#263b6b","strokeWidth":2.2},"encoding":{"x":{"field":"score","type":"quantitative","scale":{"domain":[-2.0,3.026],"nice":false,"zero":false},"axis":{"orient":"top","title":null,"values":[-2,-1.5,-1,-0.5,0,0.5,1,1.5,2,2.5,3],"labelExpr":"datum.value % 1 === 0 && datum.value <= 2 ? '' + datum.value : ''","labelAlign":{"condition":{"test":"datum.value === -2","value":"right"},"value":"center"}}},"order":{"field":"year"}}},
  {"data":{"name":"trends_ba02"},"mark":{"type":"rule","strokeDash":[3,3],"strokeWidth":3},"encoding":{"x":{"field":"v","type":"quantitative","scale":{"domain":[-2.0,3.026],"nice":false,"zero":false},"axis":null},"x2":{"field":"v_end"},"y2":{"field":"year_end"},"color":{"field":"trend","type":"nominal","scale":{"domain":["rise","fall"],"range":["#e8452c","#2e6b2e"]},"legend":null}}},
  {"data":{"name":"trends_ba02"},"mark":{"type":"point","shape":"triangle-up","filled":true,"size":70,"opacity":1},"encoding":{"x":{"field":"v_end","type":"quantitative","scale":{"domain":[-2.0,3.026],"nice":false,"zero":false},"axis":null},"y":{"field":"year_end","type":"quantitative","scale":{"domain":[1175,2004],"nice":false,"zero":false},"axis":{"orient":"left","title":null,"values":[1180,1200,1220,1240,1260,1280,1300,1320,1340,1360,1380,1400,1420,1440,1460,1480,1500,1520,1540,1560,1580,1600,1620,1640,1660,1680,1700,1720,1740,1760,1780,1800,1820,1840,1860,1880,1900,1920,1940,1960,1980,2000],"labels":false,"tickSize":6}},"angle":{"field":"heading","type":"quantitative","scale":null},"color":{"field":"trend","type":"nominal","scale":{"domain":["rise","fall"],"range":["#e8452c","#2e6b2e"]},"legend":null}}}],
 "resolve":{"scale":{"x":"independent","color":"independent"},"axis":{"x":"independent"}}},

{"width":178,"height":508,
 "encoding":{"y":{"field":"year","type":"quantitative","scale":{"domain":[1175,2004],"nice":false,"zero":false},"axis":{"orient":"left","title":null,"values":[1180,1200,1220,1240,1260,1280,1300,1320,1340,1360,1380,1400,1420,1440,1460,1480,1500,1520,1540,1560,1580,1600,1620,1640,1660,1680,1700,1720,1740,1760,1780,1800,1820,1840,1860,1880,1900,1920,1940,1960,1980,2000],"labels":false,"tickSize":6}}},
 "layer":[
  {"data":{"name":"intervals"},"mark":{"type":"rect"},"encoding":{"y2":{"field":"year_end"},"color":{"field":"kind","type":"nominal","scale":{"domain":["period","event"],"range":["#d9dedd","#fbbd1f"]},"legend":null}}},
  {"data":{"name":"layers_ba034"},"mark":{"type":"rule","strokeWidth":2},"encoding":{"x":{"field":"length","type":"quantitative","scale":{"domain":[0,4.34],"nice":false,"zero":false},"axis":{"orient":"bottom","title":null,"values":[0,1,2,3],"labelFontSize":14}},"x2":{"datum":0},"color":{"field":"type","type":"nominal","scale":{"domain":["instrumental","historical"],"range":["#4a9f9f","#6e6e6e"]},"legend":null}}},
  {"data":{"name":"ba034"},"mark":{"type":"line","interpolate":"catmull-rom","color":"#4a5680","strokeWidth":2.2},"encoding":{"x":{"field":"score","type":"quantitative","scale":{"domain":[-2.453,2.293],"reverse":true,"nice":false,"zero":false},"axis":{"orient":"top","title":null,"values":[-2,-1.5,-1,-0.5,0,0.5,1,1.5,2],"labelExpr":"datum.value % 1 === 0 ? '' + datum.value : ''"}},"order":{"field":"year"}}}],
 "resolve":{"scale":{"x":"independent","color":"independent"},"axis":{"x":"independent"}}},

{"width":194,"height":508,
 "encoding":{"y":{"field":"year","type":"quantitative","scale":{"domain":[1175,2004],"nice":false,"zero":false},"axis":{"orient":"left","title":null,"values":[1180,1200,1220,1240,1260,1280,1300,1320,1340,1360,1380,1400,1420,1440,1460,1480,1500,1520,1540,1560,1580,1600,1620,1640,1660,1680,1700,1720,1740,1760,1780,1800,1820,1840,1860,1880,1900,1920,1940,1960,1980,2000],"labels":false,"tickSize":6}}},
 "layer":[
  {"data":{"name":"intervals"},"mark":{"type":"rect"},"encoding":{"y2":{"field":"year_end"},"color":{"field":"kind","type":"nominal","scale":{"domain":["period","event"],"range":["#d9dedd","#fbbd1f"]},"legend":null}}},
  {"data":{"name":"watermark"},"mark":{"type":"text","angle":-60,"align":"left","baseline":"middle","fontSize":108,"font":"Liberation Sans","color":"#b8b8b8","opacity":0.6},"encoding":{"text":{"field":"label"},"x":{"field":"v","type":"quantitative","scale":{"domain":[-5.701,6.128],"reverse":true,"nice":false,"zero":false},"axis":null}}},
  {"data":{"name":"layers_aa05"},"mark":{"type":"rule","strokeWidth":2,"color":"#a3a3a3"},"encoding":{"x":{"field":"length","type":"quantitative","scale":{"domain":[0,4.697],"nice":false,"zero":false},"axis":{"orient":"bottom","title":null,"values":[0,1,2,3],"labelFontSize":14}},"x2":{"datum":0}}},
  {"data":{"name":"aa05"},"mark":{"type":"line","interpolate":"catmull-rom","color":"#4a5680","strokeWidth":2.2},"encoding":{"x":{"field":"score","type":"quantitative","scale":{"domain":[-5.701,6.128],"reverse":true,"nice":false,"zero":false},"axis":{"orient":"top","title":null,"values":[-5,-4,-3,-2,-1,0,1,2,3,4,5,6],"labelExpr":"datum.value % 4 === 0 ? '' + datum.value : ''"}},"order":{"field":"year"}}},
  {"data":{"name":"trends_aa05"},"mark":{"type":"rule","strokeDash":[3,3],"strokeWidth":3},"encoding":{"x":{"field":"v","type":"quantitative","scale":{"domain":[-5.701,6.128],"reverse":true,"nice":false,"zero":false},"axis":null},"x2":{"field":"v_end"},"y2":{"field":"year_end"},"color":{"field":"trend","type":"nominal","scale":{"domain":["rise","fall"],"range":["#e8452c","#2e6b2e"]},"legend":null}}},
  {"data":{"name":"trends_aa05"},"mark":{"type":"point","shape":"triangle-up","filled":true,"size":70,"opacity":1},"encoding":{"x":{"field":"v_end","type":"quantitative","scale":{"domain":[-5.701,6.128],"reverse":true,"nice":false,"zero":false},"axis":null},"y":{"field":"year_end","type":"quantitative","scale":{"domain":[1175,2004],"nice":false,"zero":false},"axis":{"orient":"left","title":null,"values":[1180,1200,1220,1240,1260,1280,1300,1320,1340,1360,1380,1400,1420,1440,1460,1480,1500,1520,1540,1560,1580,1600,1620,1640,1660,1680,1700,1720,1740,1760,1780,1800,1820,1840,1860,1880,1900,1920,1940,1960,1980,2000],"labels":false,"tickSize":6}},"angle":{"field":"heading","type":"quantitative","scale":null},"color":{"field":"trend","type":"nominal","scale":{"domain":["rise","fall"],"range":["#e8452c","#2e6b2e"]},"legend":null}}}],
 "resolve":{"scale":{"x":"independent","color":"independent"},"axis":{"x":"independent"}}},

{"width":223,"height":508,
 "encoding":{"y":{"field":"year","type":"quantitative","scale":{"domain":[1175,2004],"nice":false,"zero":false},"axis":{"orient":"right","title":null,"values":[1180,1200,1220,1240,1260,1280,1300,1320,1340,1360,1380,1400,1420,1440,1460,1480,1500,1520,1540,1560,1580,1600,1620,1640,1660,1680,1700,1720,1740,1760,1780,1800,1820,1840,1860,1880,1900,1920,1940,1960,1980,2000],"labelExpr":"datum.value % 100 === 0 ? '' + datum.value : ''","labelFontSize":16,"tickSize":6,"labelPadding":4}}},
 "layer":[
  {"data":{"name":"intervals"},"mark":{"type":"rect"},"encoding":{"y2":{"field":"year_end"},"color":{"field":"kind","type":"nominal","scale":{"domain":["period","event"],"range":["#d9dedd","#fbbd1f"]},"legend":null}}},
  {"data":{"name":"t_eur"},"mark":{"type":"line","color":"#a9a9a9","strokeWidth":2},"encoding":{"x":{"field":"t","type":"quantitative","scale":{"domain":[-2.048,1.492],"nice":false,"zero":false},"axis":{"orient":"bottom","title":null,"values":[-2,-1.5,-1,-0.5,0,0.5,1],"labelExpr":"datum.value % 1 === 0 && datum.value >= -1 ? '' + datum.value : ''","labelFontSize":15}},"order":{"field":"year"}}},
  {"data":{"name":"t_alps"},"mark":{"type":"line","color":"#e8302a","strokeWidth":2.4},"encoding":{"x":{"field":"t","type":"quantitative","scale":{"domain":[-3.456,1.532],"nice":false,"zero":false},"axis":{"orient":"top","title":null,"values":[-3,-2.5,-2,-1.5,-1,-0.5,0,0.5,1,1.5],"labelExpr":"datum.value % 1 === 0 && datum.value >= -2 ? '' + datum.value : ''"}},"order":{"field":"year"}}}],
 "resolve":{"scale":{"x":"independent","color":"independent"},"axis":{"x":"independent"}}},

{"width":250,"height":72,"data":{"name":"footer"},"transform":[{"filter":"datum.panel === 'P'"}],
 "encoding":{"x":{"field":"v","type":"quantitative","scale":{"domain":[133.3,276.4],"reverse":true,"nice":false,"zero":false},"axis":null},"y":{"field":"row","type":"quantitative","scale":{"domain":[0,7.2],"reverse":true,"nice":false,"zero":false},"axis":null},"text":{"field":"text"}},
 "layer":[
  {"transform":[{"filter":"datum.role === 'title'"}],"mark":{"type":"text","fontSize":17,"font":"Liberation Sans","color":"#1a1a1a"}},
  {"transform":[{"filter":"datum.role === 'note'"}],"mark":{"type":"text","fontSize":12,"font":"Liberation Sans","color":"#1a1a1a"}}]},
{"width":191,"height":72,"data":{"name":"footer"},"transform":[{"filter":"datum.panel === 'BA02'"}],
 "encoding":{"x":{"field":"v","type":"quantitative","scale":{"domain":[-0.025,4.69],"nice":false,"zero":false},"axis":null},"y":{"field":"row","type":"quantitative","scale":{"domain":[0,7.2],"reverse":true,"nice":false,"zero":false},"axis":null},"text":{"field":"text"}},
 "layer":[
  {"transform":[{"filter":"datum.role === 'title'"}],"mark":{"type":"text","fontSize":17,"font":"Liberation Sans","color":"#1a1a1a"}},
  {"transform":[{"filter":"datum.role === 'note'"}],"mark":{"type":"text","fontSize":11.5,"font":"Liberation Sans","color":"#1a1a1a"}}]},
{"width":178,"height":72,"data":{"name":"footer"},"transform":[{"filter":"datum.panel === 'BA034'"}],
 "encoding":{"x":{"field":"v","type":"quantitative","scale":{"domain":[0,4.34],"nice":false,"zero":false},"axis":null},"y":{"field":"row","type":"quantitative","scale":{"domain":[0,7.2],"reverse":true,"nice":false,"zero":false},"axis":null},"text":{"field":"text"}},
 "layer":[
  {"transform":[{"filter":"datum.role === 'title'"}],"mark":{"type":"text","fontSize":17,"font":"Liberation Sans","color":"#1a1a1a"}},
  {"transform":[{"filter":"datum.role === 'note'"}],"mark":{"type":"text","fontSize":11.5,"font":"Liberation Sans","color":"#1a1a1a"}}]},
{"width":194,"height":72,"data":{"name":"footer"},"transform":[{"filter":"datum.panel === 'AA05'"}],
 "encoding":{"x":{"field":"v","type":"quantitative","scale":{"domain":[0,4.697],"nice":false,"zero":false},"axis":null},"y":{"field":"row","type":"quantitative","scale":{"domain":[0,7.2],"reverse":true,"nice":false,"zero":false},"axis":null},"text":{"field":"text"}},
 "layer":[
  {"transform":[{"filter":"datum.role === 'title'"}],"mark":{"type":"text","fontSize":17,"font":"Liberation Sans","color":"#1a1a1a"}},
  {"transform":[{"filter":"datum.role === 'note'"}],"mark":{"type":"text","fontSize":11.5,"font":"Liberation Sans","color":"#1a1a1a"}}]},
{"width":223,"height":72,"data":{"name":"footer"},"transform":[{"filter":"datum.panel === 'T'"}],
 "encoding":{"x":{"field":"v","type":"quantitative","scale":{"domain":[-2.048,1.492],"nice":false,"zero":false},"axis":null},"y":{"field":"row","type":"quantitative","scale":{"domain":[0,7.2],"reverse":true,"nice":false,"zero":false},"axis":null},"text":{"field":"text"}},
 "layer":[
  {"transform":[{"filter":"datum.role === 'title'"}],"mark":{"type":"text","fontSize":17,"font":"Liberation Sans","color":"#1a1a1a"}},
  {"transform":[{"filter":"datum.role === 'note'"}],"mark":{"type":"text","fontSize":12,"font":"Liberation Sans","color":"#1a1a1a"}}]}
],
"columns": 5,
"spacing": {"row": 30, "column": 0},
"bounds": "flush",
"align": "each",
"config": {
 "view": {"stroke": null},
 "axis": {"domainColor": "#b3b3b3", "domainWidth": 1.5, "tickColor": "#9e9e9e", "tickWidth": 1, "tickSize": 5, "labelColor": "#1a1a1a", "labelFont": "Liberation Sans", "labelFontSize": 15, "labelPadding": 3, "grid": false, "labelOverlap": false, "labelFlush": false},
 "text": {"baseline": "middle", "align": "center"}
}
}
